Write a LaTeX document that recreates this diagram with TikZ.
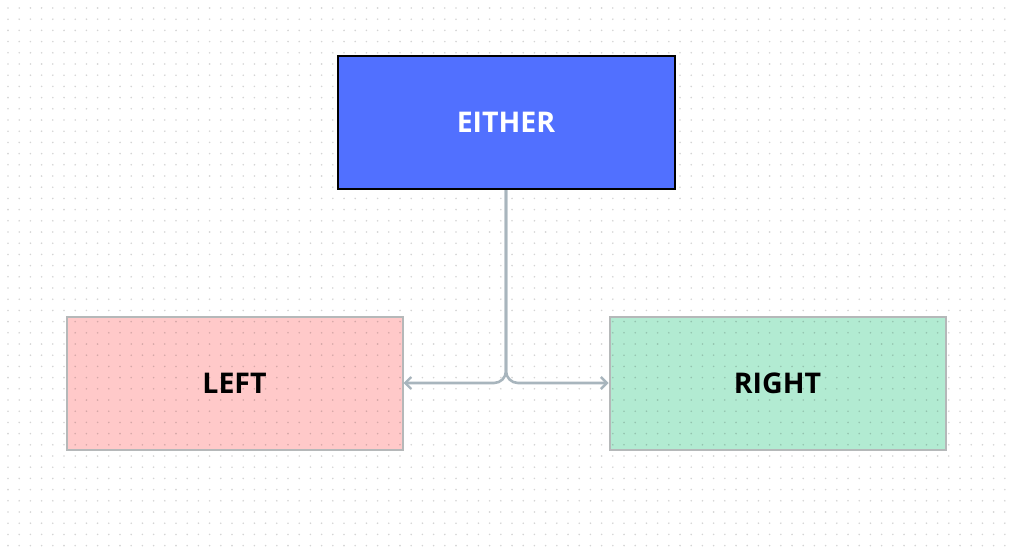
\documentclass[tikz,border=0pt]{standalone}
\usepackage{fontspec}
\setmainfont{Open Sans}
\usetikzlibrary{arrows.meta}
\definecolor{eblue}{HTML}{5170FF}
\definecolor{lpink}{HTML}{FFC9C9}
\definecolor{rgreen}{HTML}{B2EBD2}
\definecolor{bgrey}{HTML}{B5B8B9}
\definecolor{conncol}{HTML}{A8B5BD}
\tikzset{
  box/.style={rectangle, minimum width=336pt, minimum height=133pt, inner sep=0pt, font=\fontsize{28.5}{28.5}\selectfont\bfseries},
  sidebox/.style={box, draw=bgrey, line width=2pt},
  conn/.style={draw=conncol, line width=2.6pt, rounded corners=12pt, -{Straight Barb[length=6pt,width=12pt,line width=2.4pt]}},
}
\begin{document}
\begin{tikzpicture}[x=1pt,y=-1pt]
\useasboundingbox (0,0) rectangle (1014,551);
\fill[white] (0,0) rectangle (1014,551);
% side boxes fill
\node[sidebox, fill=lpink] (left) at (234.5,383) {};
\node[sidebox, fill=rgreen] (right) at (777.5,383) {};
% dots
\foreach \i in {0,...,89}{
  \foreach \j in {0,...,48}{
    \fill[black, opacity=0.17] (8+\i*11.2, 8+\j*11.2) circle (0.9);
  }
}
% redraw side box borders and labels
\node[sidebox] at (left) {LEFT};
\node[sidebox] at (right) {RIGHT};
% top box
\node[box, draw=black, line width=2pt, fill=eblue, text=white, minimum width=337pt] (either) at (506,122.5) {EITHER};
% connectors
\draw[conn] (either.south) |- (left.east);
\draw[conn] (either.south) |- (right.west);
\end{tikzpicture}
\end{document}
